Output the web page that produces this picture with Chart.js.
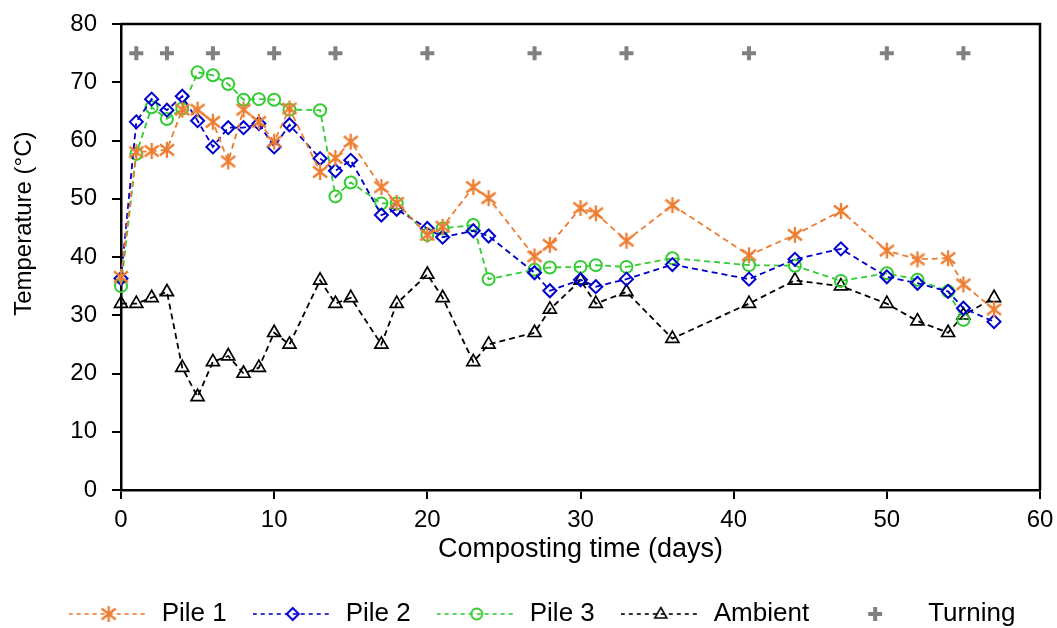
<!DOCTYPE html>
<html>
<head>
<meta charset="utf-8">
<script src="https://cdn.jsdelivr.net/npm/chart.js@4.4.1/dist/chart.umd.min.js"></script>
<style>
  html, body { margin: 0; padding: 0; background: #fff; }
  #chart { display: block; }
</style>
</head>
<body>
<canvas id="chart" width="1057" height="628"></canvas>
<script>
// sampling days (Pile 3 has no reading on the last day)
const days = [0, 1, 2, 3, 4, 5, 6, 7, 8, 9, 10, 11, 13, 14, 15, 17, 18, 20, 21, 23, 24, 27, 28, 30, 31, 33, 36, 41, 44, 47, 50, 52, 54, 55, 57];
const pile1 = [36.6, 58, 58.2, 58.4, 65.3, 65.3, 63.2, 56.4, 65.3, 63.2, 59.8, 65.5, 54.6, 57, 59.8, 52, 49.3, 43.8, 45.2, 52, 50.1, 40.1, 42.1, 48.4, 47.5, 42.8, 48.9, 40.3, 43.8, 47.9, 41.1, 39.6, 39.8, 35.3, 31];
const pile2 = [36.3, 63.2, 67.1, 65.2, 67.6, 63.4, 58.9, 62.2, 62.2, 62.9, 58.9, 62.7, 56.9, 54.8, 56.6, 47.2, 48.2, 44.9, 43.4, 44.5, 43.6, 37.3, 34.2, 36.1, 34.9, 36.2, 38.7, 36.2, 39.6, 41.4, 36.6, 35.5, 34.1, 31.2, 28.9];
const pile3 = [35, 57.7, 65.7, 63.7, 65.5, 71.7, 71.2, 69.7, 67, 67.1, 67, 65.3, 65.2, 50.4, 52.8, 49.2, 49.2, 43.8, 44.9, 45.5, 36.2, 37.8, 38.2, 38.3, 38.6, 38.3, 39.8, 38.6, 38.5, 35.9, 37.2, 36.1, 34.1, 29.2];
const ambient = [32, 32, 33, 34, 21, 16, 22, 23, 20, 21, 27, 25, 36, 32, 33, 25, 32, 37, 33, 22, 25, 27, 31, 36, 32, 34, 26, 32, 36, 35, 32, 29, 27, 30, 33];
const turningDays = [1, 3, 6, 10, 14, 20, 27, 33, 41, 50, 55];
const turningLevel = 75;

const xTickValues = [0, 10, 20, 30, 40, 50, 60];
const xTickLabels = ['0', '10', '20', '30', '40', '50', '60'];
const yTickValues = [0, 10, 20, 30, 40, 50, 60, 70, 80];
const yTickLabels = ['0', '10', '20', '30', '40', '50', '60', '70', '80'];

const FONT = "'Liberation Sans', Arial, sans-serif";
const orange = '#ED7D31';
const blue = '#0000CC';
const green = '#33CC33';
const black = '#000000';
const gray = '#808080';

// marker shapes used for the legend icons and the asterisk points
function drawAsterisk(g, x, y, color) {
  g.strokeStyle = color; g.lineWidth = 2.3;
  g.beginPath();
  g.moveTo(x, y - 8); g.lineTo(x, y + 8);
  g.moveTo(x - 7, y - 5.5); g.lineTo(x + 7, y + 5.5);
  g.moveTo(x + 7, y - 5.5); g.lineTo(x - 7, y + 5.5);
  g.stroke();
}
function drawDiamond(g, x, y, color) {
  g.strokeStyle = color; g.lineWidth = 2;
  g.beginPath();
  g.moveTo(x, y - 6); g.lineTo(x + 6, y); g.lineTo(x, y + 6); g.lineTo(x - 6, y);
  g.closePath(); g.stroke();
}
function drawCircle(g, x, y, color) {
  g.strokeStyle = color; g.lineWidth = 2;
  g.beginPath(); g.arc(x, y, 5.5, 0, Math.PI * 2); g.stroke();
}
function drawTriangle(g, x, y, color) {
  g.strokeStyle = color; g.lineWidth = 1.6;
  g.beginPath();
  g.moveTo(x, y - 6.5); g.lineTo(x + 6, y + 4); g.lineTo(x - 6, y + 4);
  g.closePath(); g.stroke();
}
function drawPlus(g, x, y, color) {
  g.strokeStyle = color; g.lineWidth = 4;
  g.beginPath();
  g.moveTo(x - 7, y); g.lineTo(x + 7, y);
  g.moveTo(x, y - 7); g.lineTo(x, y + 7);
  g.stroke();
}

function makeAsterisk(color) {
  const c = document.createElement('canvas');
  c.width = 18; c.height = 18;
  drawAsterisk(c.getContext('2d'), 9, 9, color);
  return c;
}

function legendIcon(color, marker, dashed) {
  const c = document.createElement('canvas');
  c.width = 80; c.height = 26;
  const g = c.getContext('2d');
  if (dashed) {
    g.strokeStyle = color; g.lineWidth = 1.6; g.setLineDash([4, 4]);
    g.beginPath(); g.moveTo(0, 13); g.lineTo(80, 13); g.stroke();
    g.setLineDash([]);
  }
  marker(g, 40, 13, color);
  return c;
}

const legendIcons = [
  legendIcon(orange, drawAsterisk, true),
  legendIcon(blue, drawDiamond, true),
  legendIcon(green, drawCircle, true),
  legendIcon(black, drawTriangle, true),
  legendIcon(gray, drawPlus, false)
];

function series(values) {
  return values.map((v, i) => ({ x: days[i], y: v }));
}

// fixed axis box sizes, and no extra label padding around the plot
function pinScale(s, size) {
  if (s.isHorizontal()) s.height = size; else s.width = size;
  s.paddingTop = 0; s.paddingBottom = 0;
  s.paddingLeft = 0; s.paddingRight = 0;
}

const lineDefaults = {
  borderWidth: 1.8,
  borderDash: [6, 4],
  pointBorderWidth: 2,
  pointBackgroundColor: 'rgba(0,0,0,0)',
  tension: 0,
  fill: false,
  clip: false
};

const frame = {
  id: 'frame',
  afterLayout(chart) {
    // nudge the legend row to where the original sits
    const l = chart.legend;
    l.left += 22; l.right += 22;
    l.top += 9; l.bottom += 9;
  },
  beforeDatasetsDraw(chart) {
    const { ctx, chartArea: a } = chart;
    ctx.save();
    ctx.strokeStyle = '#000';
    ctx.lineWidth = 2.5;
    ctx.beginPath();
    ctx.moveTo(a.left, a.top);
    ctx.lineTo(a.right, a.top);
    ctx.lineTo(a.right, a.bottom);
    ctx.stroke();
    ctx.restore();
  }
};

new Chart(document.getElementById('chart'), {
  type: 'line',
  data: {
    datasets: [
      Object.assign({}, lineDefaults, {
        label: 'Pile 1', data: series(pile1),
        borderColor: orange, pointBorderColor: orange,
        pointStyle: makeAsterisk(orange), pointRadius: 8
      }),
      Object.assign({}, lineDefaults, {
        label: 'Pile 2', data: series(pile2),
        borderColor: blue, pointBorderColor: blue,
        pointStyle: 'rectRot', pointRadius: 6.5
      }),
      Object.assign({}, lineDefaults, {
        label: 'Pile 3', data: series(pile3),
        borderColor: green, pointBorderColor: green,
        pointStyle: 'circle', pointRadius: 6
      }),
      Object.assign({}, lineDefaults, {
        label: 'Ambient', data: series(ambient),
        borderColor: black, pointBorderColor: black,
        pointStyle: 'triangle', pointRadius: 7.5, pointBorderWidth: 1.7
      }),
      {
        label: 'Turning',
        data: turningDays.map(d => ({ x: d, y: turningLevel })),
        showLine: false,
        pointStyle: 'cross', pointRadius: 7, pointBorderWidth: 4,
        pointBorderColor: gray, borderColor: gray,
        clip: false
      }
    ]
  },
  options: {
    responsive: false,
    animation: false,
    events: [],
    layout: { autoPadding: false, padding: { top: 24, right: 17, left: 0, bottom: 0 } },
    plugins: {
      tooltip: { enabled: false },
      legend: {
        position: 'bottom',
        labels: {
          usePointStyle: true,
          pointStyleWidth: 80,
          padding: 26,
          color: '#000',
          font: { family: FONT, size: 26 },
          generateLabels: chart => chart.data.datasets.map((ds, i) => ({
            text: ds.label,
            pointStyle: legendIcons[i],
            fillStyle: 'rgba(0,0,0,0)',
            strokeStyle: 'rgba(0,0,0,0)',
            lineWidth: 0,
            hidden: false,
            datasetIndex: i
          }))
        }
      }
    },
    scales: {
      x: {
        type: 'linear', min: 0, max: 60,
        afterBuildTicks: s => { s.ticks = xTickValues.map(v => ({ value: v })); },
        afterFit: s => pinScale(s, 76),
        grid: { drawOnChartArea: false, drawTicks: true, tickLength: 9, color: '#000', lineWidth: 2 },
        border: { display: true, color: '#000', width: 2.5 },
        ticks: {
          color: '#000', font: { family: FONT, size: 24 }, padding: 7,
          maxRotation: 0, autoSkip: false,
          callback: (v, i) => xTickLabels[i]
        },
        title: {
          display: true, text: 'Composting time (days)', color: '#000',
          font: { family: FONT, size: 27 }, padding: { top: 0, bottom: 0 }
        }
      },
      y: {
        type: 'linear', min: 0, max: 80,
        afterBuildTicks: s => { s.ticks = yTickValues.map(v => ({ value: v })); },
        afterFit: s => pinScale(s, 121),
        grid: { drawOnChartArea: false, drawTicks: true, tickLength: 9, color: '#000', lineWidth: 2 },
        border: { display: true, color: '#000', width: 2.5 },
        ticks: {
          color: '#000', font: { family: FONT, size: 24 }, padding: 15,
          callback: (v, i) => yTickLabels[i]
        },
        title: {
          display: true, text: '          Temperature (°C)', color: '#000',
          font: { family: FONT, size: 24 }, padding: { top: 10, bottom: 0 }
        }
      }
    }
  },
  plugins: [frame]
});
</script>
</body>
</html>
